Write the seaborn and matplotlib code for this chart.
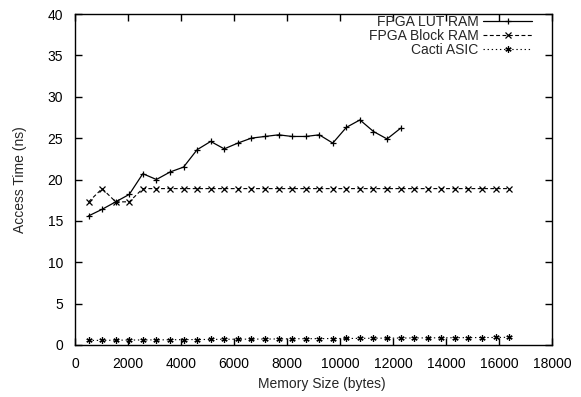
import matplotlib
matplotlib.use("Agg")
import matplotlib.pyplot as plt
import seaborn as sns
import pandas as pd

# Data
lut_sizes = [512, 1024, 1536, 2048, 2560, 3072, 3584, 4096, 4608, 5120, 5632, 6144,
             6656, 7168, 7680, 8192, 8704, 9216, 9728, 10240, 10752, 11264, 11776, 12288]
lut_times = [15.6, 16.4, 17.3, 18.2, 20.7, 20.0, 20.9, 21.5, 23.6, 24.6, 23.7, 24.4,
             25.0, 25.2, 25.4, 25.2, 25.2, 25.4, 24.4, 26.3, 27.2, 25.8, 24.9, 26.2]

all_sizes = [512, 1024, 1536, 2048, 2560, 3072, 3584, 4096, 4608, 5120, 5632, 6144,
             6656, 7168, 7680, 8192, 8704, 9216, 9728, 10240, 10752, 11264, 11776, 12288,
             12800, 13312, 13824, 14336, 14848, 15360, 15872, 16384]
block_times = [17.3, 18.9, 17.3, 17.3, 18.9, 18.9, 18.9, 18.9, 18.9, 18.9, 18.9, 18.9,
               18.9, 18.9, 18.9, 18.9, 18.9, 18.9, 18.9, 18.9, 18.9, 18.9, 18.9, 18.9,
               18.9, 18.9, 18.9, 18.9, 18.9, 18.9, 18.9, 18.9]
cacti_times = [0.55, 0.56, 0.58, 0.60, 0.61, 0.62, 0.63, 0.65, 0.66, 0.67, 0.69, 0.70,
               0.71, 0.72, 0.73, 0.75, 0.76, 0.77, 0.78, 0.79, 0.80, 0.82, 0.83, 0.84,
               0.85, 0.86, 0.87, 0.88, 0.89, 0.90, 0.91, 0.93]

series_names = ["FPGA LUT RAM", "FPGA Block RAM", "Cacti ASIC"]
x_ticks = [0, 2000, 4000, 6000, 8000, 10000, 12000, 14000, 16000, 18000]
y_ticks = [0, 5, 10, 15, 20, 25, 30, 35, 40]

sns.set_theme(style="white")
plt.rcParams["font.family"] = ["Liberation Sans", "DejaVu Sans"]
plt.rcParams["axes.edgecolor"] = "black"
plt.rcParams["axes.linewidth"] = 1.0

FS = 10

fig = plt.figure(figsize=(5.81, 3.97), dpi=100)
ax = fig.add_axes([75/581, 1 - 345/397, (552 - 75)/581, (345 - 14)/397])

df_lut = pd.DataFrame({"x": lut_sizes, "y": lut_times})
df_blk = pd.DataFrame({"x": all_sizes, "y": block_times})
df_cac = pd.DataFrame({"x": all_sizes, "y": cacti_times})

common = dict(ax=ax, color="black", markeredgecolor="black", markerfacecolor="black")
sns.lineplot(data=df_lut, x="x", y="y", lw=0.9, marker="+", markersize=5,
             markeredgewidth=0.9, label=series_names[0], **common)
sns.lineplot(data=df_blk, x="x", y="y", lw=0.8, marker="x", markersize=3.8,
             markeredgewidth=0.9, label=series_names[1], **common)
sns.lineplot(data=df_cac, x="x", y="y", lw=0.8, marker=(6, 2, 0), markersize=4.5,
             markeredgewidth=0.9, label=series_names[2], **common)

lines = ax.get_lines()
lines[0].set_linestyle("-")
lines[1].set_dashes((3.5, 2.2))
lines[2].set_dashes((1.2, 2.5))

ax.set_xlim(0, 18000)
ax.set_ylim(0, 40)
ax.set_xticks(x_ticks)
ax.set_yticks(y_ticks)
ax.set_xticklabels([str(t) for t in x_ticks])
ax.set_yticklabels([str(t) for t in y_ticks])
ax.tick_params(direction="in", length=5, width=1.0, top=True, right=True,
               bottom=True, left=True, labelsize=FS, colors="black", pad=8.5)
for s in ax.spines.values():
    s.set_visible(True)
    s.set_color("black")
    s.set_linewidth(1.0)

ax.set_xlabel("Memory Size (bytes)", fontsize=FS, labelpad=7)
ax.set_ylabel("Access Time (ns)", fontsize=FS, labelpad=15)
ax.xaxis.set_label_coords((322 - 75) / 477, -0.098)

leg = ax.legend(handles=lines[:3], labels=series_names, loc="upper right",
                frameon=False, markerfirst=False, fontsize=FS, handlelength=3.5,
                handletextpad=0.36, labelspacing=0.0, borderaxespad=0.0,
                borderpad=0.0, numpoints=1,
                bbox_to_anchor=(532/581, 1 - 14.5/397), bbox_transform=fig.transFigure)

fig.savefig("out.png", dpi=100)
